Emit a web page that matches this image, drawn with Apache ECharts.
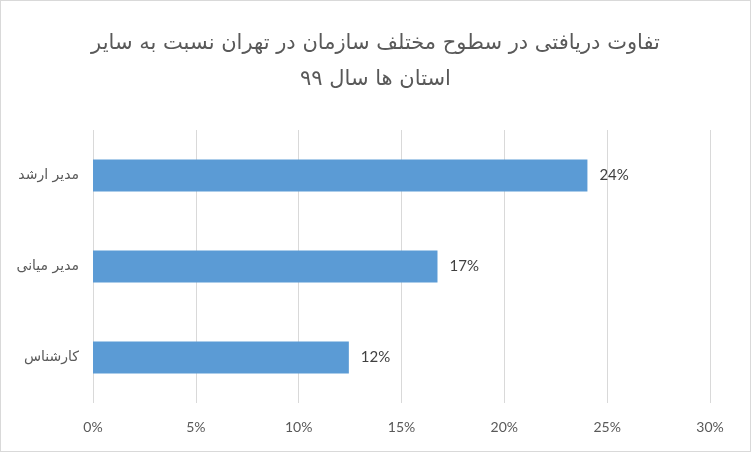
<!DOCTYPE html>
<html>
<head>
<meta charset="utf-8">
<script src="https://cdn.jsdelivr.net/npm/echarts@6/dist/echarts.min.js"></script>
<style>
html,body{margin:0;padding:0;background:#fff;}
#c{width:749px;height:450px;border:1px solid #d9d9d9;}
</style>
</head>
<body>
<div id="c"></div>
<script>
const titleText = 'تفاوت دریافتی در سطوح مختلف سازمان در تهران نسبت به سایر\nاستان ها سال ۹۹';
const categories = ['مدیر ارشد', 'مدیر میانی', 'کارشناس'];
const values = [24.04, 16.75, 12.44];
const axisMin = 0, axisMax = 30, axisStep = 5;

const chart = echarts.init(document.getElementById('c'));
chart.setOption({
  animation: false,
  title: {
    text: titleText,
    left: 'center',
    top: 20,
    textStyle: {fontFamily: 'DejaVu Sans', fontSize: 21, fontWeight: 'normal', color: '#595959', lineHeight: 36}
  },
  grid: {left: 92, right: 40, top: 129, bottom: 48},
  xAxis: {
    type: 'value', min: axisMin, max: axisMax, interval: axisStep,
    axisLine: {show: false}, axisTick: {show: false},
    splitLine: {lineStyle: {color: '#d9d9d9', width: 1}},
    axisLabel: {formatter: v => v + '%', color: '#595959', fontFamily: 'Lato', fontSize: 14, margin: 17}
  },
  yAxis: {
    type: 'category', data: categories, inverse: true,
    axisLine: {show: false}, axisTick: {show: false},
    axisLabel: {color: '#595959', fontFamily: 'DejaVu Sans', fontSize: 14, margin: 14}
  },
  series: [{
    type: 'bar', data: values, barWidth: '35%',
    itemStyle: {color: '#5b9bd5'},
    label: {show: true, position: 'right', distance: 12, formatter: p => Math.round(p.value) + '%', color: '#404040', fontFamily: 'Lato', fontSize: 15}
  }]
});
</script>
</body>
</html>
